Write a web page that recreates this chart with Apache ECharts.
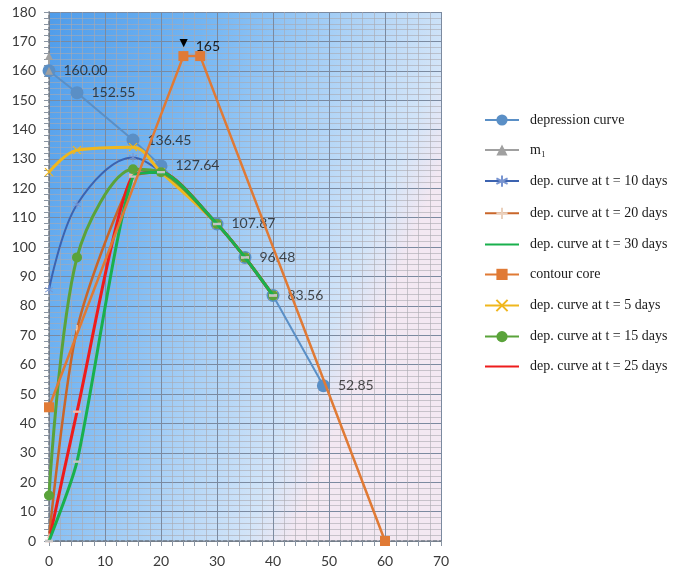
<!DOCTYPE html>
<html>
<head>
<meta charset="utf-8">
<script src="https://cdn.jsdelivr.net/npm/echarts@6/dist/echarts.min.js"></script>
<style>
  html, body { margin: 0; padding: 0; background: #ffffff; }
  #chart { width: 674px; height: 572px; }
</style>
</head>
<body>
<div id="chart"></div>
<script>
// Distance along the section (m) and water level (m) for each curve
const depressionCurve = [[0, 160.00], [5, 152.55], [15, 136.45], [20, 127.64], [30, 107.87], [35, 96.48], [40, 83.56], [49, 52.85]];
const m1 = [[0, 165], [0, 160]];
const depT10 = [[0, 85.5], [5, 114.5], [15, 130.5], [20, 125.5], [30, 107.87], [35, 96.48], [40, 83.56]];
const depT20 = [[0, 1], [5, 72], [15, 123.5], [20, 125.5], [30, 107.87], [35, 96.48], [40, 83.56]];
const depT30 = [[0, 0], [5, 27], [15, 124], [20, 125.5], [30, 107.87], [35, 96.48], [40, 83.56]];
const contourCore = [[0, 45.5], [24, 165], [27, 165], [60, 0]];
const depT5 = [[0, 125.5], [5, 133], [15, 134], [20, 125.5], [30, 107.87], [35, 96.48], [40, 83.56]];
const depT15 = [[0, 15.5], [5, 96.5], [15, 126.5], [20, 125.5], [30, 107.87], [35, 96.48], [40, 83.56]];
const depT25 = [[0, 0], [5, 44], [15, 124.5], [20, 125.5], [30, 107.87], [35, 96.48], [40, 83.56]];

const seriesNames = [
  'depression curve', 'm\u2081', 'dep. curve at t = 10 days', 'dep. curve at t = 20 days',
  'dep. curve at t = 30 days', 'contour core', 'dep. curve at t = 5 days',
  'dep. curve at t = 15 days', 'dep. curve at t = 25 days'
];
const peakLabel = '165';

const xMin = 0, xMax = 70, xStep = 10;
const yMin = 0, yMax = 180, yStep = 10;

const chart = echarts.init(document.getElementById('chart'));

const axisFont = { fontFamily: 'Lato', fontSize: 14, color: '#3a3a3a' };

// stroked marker outlines (each has a non-zero bounding box so it scales cleanly)
const starPath = 'path://M5,0 L5,10 M0.7,2.5 L9.3,7.5 M9.3,2.5 L0.7,7.5';
const crossPath = 'path://M0,0 L10,10 M10,0 L0,10';
const plusPath = 'path://M5,0 L5,10 M3.5,5 L6.5,5';
const dashPath = 'path://M0,0 L10,0 L10,3 L0,3 Z';

function depSeries(name, data, color, width, symbol, symbolSize, itemStyle, z, smooth) {
  return {
    name, type: 'line', data, smooth: smooth,
    symbol, symbolSize, symbolKeepAspect: true,
    lineStyle: { color, width },
    itemStyle,
    z: z
  };
}

// the dash markers read as plain lines in the key
const legendData = seriesNames.map((n, i) =>
  (i === 4 || i === 8) ? { name: n, itemStyle: { color: 'rgba(0,0,0,0)' } } : { name: n });

chart.setOption({
  animation: false,
  backgroundColor: '#ffffff',
  grid: {
    left: 49, top: 12, right: 233, bottom: 31,
    show: true,
    borderWidth: 0,
    backgroundColor: new echarts.graphic.LinearGradient(0, 0, 1, 0.3, [
      { offset: 0, color: '#4f9cea' },
      { offset: 0.35, color: '#72b5f3' },
      { offset: 0.65, color: '#a8d0f6' },
      { offset: 0.9, color: '#d2e4f8' },
      { offset: 1, color: '#f3e8f2' }
    ])
  },
  legend: {
    data: legendData,
    left: 479,
    top: 108,
    orient: 'vertical',
    itemWidth: 34,
    itemHeight: 14,
    itemGap: 16,
    selectedMode: false,
    textStyle: { fontFamily: 'Liberation Serif', fontSize: 14, color: '#1a1a1a', padding: [0, 0, 0, 6] }
  },
  xAxis: [{
    type: 'value', min: xMin, max: xMax, interval: xStep,
    axisLine: { show: true, lineStyle: { color: '#8a95a3', width: 1 } },
    axisTick: { show: true, length: 5, lineStyle: { color: '#8a95a3' } },
    minorTick: { show: true, splitNumber: 5, length: 5, lineStyle: { color: '#8a95a3' } },
    splitLine: { show: true, lineStyle: { color: '#7b8aa0', width: 1 } },
    minorSplitLine: { show: true, lineStyle: { color: 'rgba(170,168,175,0.6)', width: 1 } },
    axisLabel: Object.assign({ margin: 13 }, axisFont)
  }, {
    type: 'value', position: 'top', min: xMin, max: xMax, interval: xStep,
    axisLine: { show: true, lineStyle: { color: '#6b7480', width: 1.5, type: [4, 2] } },
    axisTick: { show: false }, axisLabel: { show: false }, splitLine: { show: false }
  }],
  yAxis: [{
    type: 'value', min: yMin, max: yMax, interval: yStep,
    axisLine: { show: true, lineStyle: { color: '#8a95a3', width: 1 } },
    axisTick: { show: true, length: 5, lineStyle: { color: '#8a95a3' } },
    minorTick: { show: true, splitNumber: 5, length: 5, lineStyle: { color: '#8a95a3' } },
    splitLine: { show: true, lineStyle: { color: '#7b8aa0', width: 1 } },
    minorSplitLine: { show: true, lineStyle: { color: 'rgba(170,168,175,0.6)', width: 1 } },
    axisLabel: Object.assign({ margin: 13 }, axisFont)
  }, {
    type: 'value', position: 'right', min: yMin, max: yMax, interval: yStep,
    axisLine: { show: true, lineStyle: { color: '#6b7480', width: 1.5, type: [4, 2] } },
    axisTick: { show: false }, axisLabel: { show: false }, splitLine: { show: false }
  }],
  series: [
    {
      name: seriesNames[0], type: 'line', data: depressionCurve,
      symbol: 'circle', symbolSize: 13,
      lineStyle: { color: '#5a8fc6', width: 2 },
      itemStyle: { color: '#5a8fc6' },
      z: 2
    },
    {
      name: seriesNames[1], type: 'line', data: m1,
      symbol: 'triangle', symbolSize: 8,
      lineStyle: { color: '#a0a0a0', width: 2 },
      itemStyle: { color: '#a0a0a0' },
      z: 2
    },
    depSeries(seriesNames[2], depT10, '#3c63b0', 2, starPath, 9,
      { color: 'none', borderColor: '#7894d0', borderWidth: 1 }, 3, 0.35),
    depSeries(seriesNames[3], depT20, '#c9662a', 2.5, plusPath, 9,
      { color: 'none', borderColor: '#ead0bc', borderWidth: 1.5 }, 3, 0.25),
    depSeries(seriesNames[4], depT30, '#19b04d', 3, dashPath, 8,
      { color: '#c4c4c4' }, 4, 0.22),
    {
      name: seriesNames[5], type: 'line', data: contourCore,
      symbol: 'rect', symbolSize: 10,
      lineStyle: { color: '#e07a35', width: 2.5 },
      itemStyle: { color: '#e07a35' },
      label: {
        show: true, position: 'top', distance: 2, offset: [15, 4],
        formatter: p => (p.dataIndex === 1 ? '{t|\u25BC}{v|' + peakLabel + '}' : ''),
        rich: {
          t: { fontSize: 14, color: '#000000', padding: [0, 5, 0, 0] },
          v: { fontFamily: 'Lato', fontSize: 14, color: '#1e1e1e', padding: [5, 0, 0, 0] }
        }
      },
      z: 6
    },
    depSeries(seriesNames[6], depT5, '#f0b71e', 3, crossPath, 8,
      { color: 'none', borderColor: '#f0b71e', borderWidth: 1.2 }, 3, 0.35),
    depSeries(seriesNames[7], depT15, '#5aa33a', 3, 'circle', 10,
      { color: '#5aa33a' }, 3, 0.3),
    depSeries(seriesNames[8], depT25, '#ee1c1c', 3, dashPath, 8,
      { color: '#f2b8a8' }, 3, 0.22),
    {
      // value labels of the depression curve, kept above the time curves
      type: 'scatter', data: depressionCurve, symbolSize: 13,
      itemStyle: { color: 'rgba(0,0,0,0)' },
      label: {
        show: true, position: 'right', distance: 8,
        fontFamily: 'Lato', fontSize: 14, color: '#1e1e1e',
        formatter: p => p.value[1].toFixed(2)
      },
      silent: true,
      z: 5
    }
  ]
});
</script>
</body>
</html>
